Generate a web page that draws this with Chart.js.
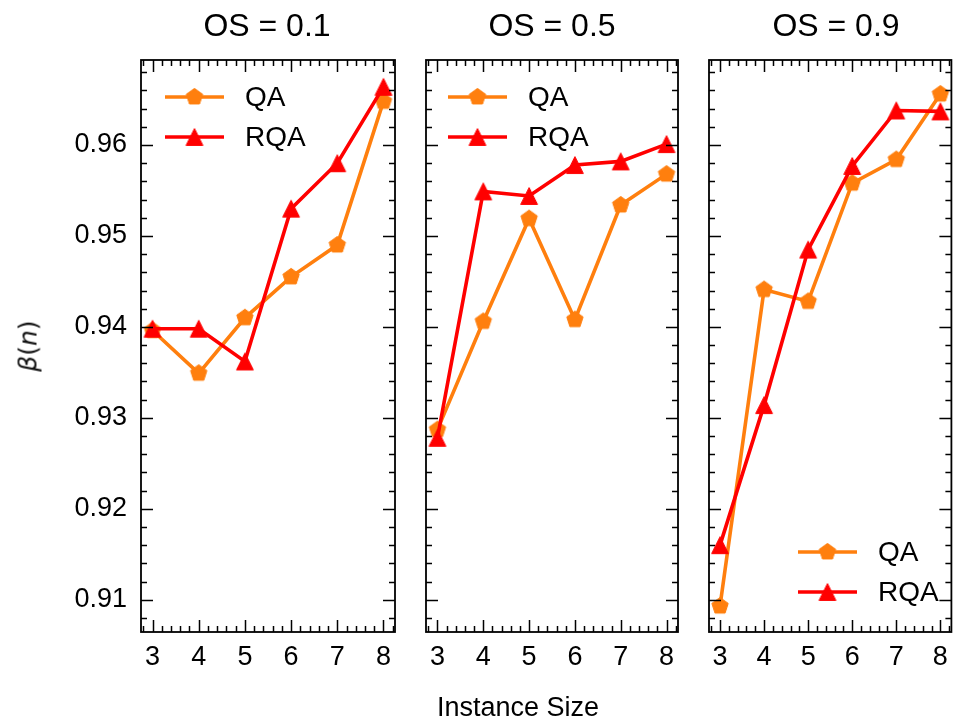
<!DOCTYPE html>
<html><head><meta charset="utf-8">
<script src="https://cdn.jsdelivr.net/npm/chart.js@4.4.0/dist/chart.umd.min.js"></script>
<style>
html,body{margin:0;padding:0;background:#fff;}
#wrap{position:relative;width:964px;height:720px;overflow:hidden;font-family:"Liberation Sans",Arial,sans-serif;color:#000;}
canvas{position:absolute;top:0;}
.title{position:absolute;top:5px;font-size:32px;line-height:40px;transform:translateX(-50%);white-space:nowrap;}
#ylab{position:absolute;left:28px;top:346px;transform:translate(-50%,-50%) rotate(-90deg);font-family:"DejaVu Sans",sans-serif;font-size:25px;white-space:nowrap;color:#111;}
#xlab{position:absolute;left:518px;top:707px;transform:translate(-50%,-50%);font-size:27px;white-space:nowrap;}
</style></head><body>
<div id="wrap">
<canvas id="c1" width="410" height="720" style="left:0px;width:410px;height:720px"></canvas>
<canvas id="c2" width="282" height="720" style="left:410px;width:282px;height:720px"></canvas>
<canvas id="c3" width="272" height="720" style="left:692px;width:272px;height:720px"></canvas>
<div class="title" id="t1" style="left:267px"></div>
<div class="title" id="t2" style="left:552px"></div>
<div class="title" id="t3" style="left:836px"></div>
<div id="ylab"><i>β</i>(<i>n</i>)</div>
<div id="xlab">Instance Size</div>
</div>
<script>
// ---- data ----
const instanceSizes = [3, 4, 5, 6, 7, 8];
const panelTitles = ['OS = 0.1', 'OS = 0.5', 'OS = 0.9'];
const seriesNames = ['QA', 'RQA'];
const qa01  = [0.9396, 0.9349, 0.9410, 0.9455, 0.9490, 0.9648];
const rqa01 = [0.9398, 0.9398, 0.9362, 0.9530, 0.9580, 0.9664];
const qa05  = [0.9287, 0.9406, 0.9519, 0.9408, 0.9534, 0.9568];
const rqa05 = [0.9278, 0.9549, 0.9544, 0.9578, 0.9582, 0.9601];
const qa09  = [0.9093, 0.9441, 0.9428, 0.9558, 0.9584, 0.9656];
const rqa09 = [0.9160, 0.9314, 0.9485, 0.9577, 0.9638, 0.9637];
const xTickValues = [3, 4, 5, 6, 7, 8];
const yTickValues = [0.91, 0.92, 0.93, 0.94, 0.95, 0.96];
const xLimits = [2.75, 8.25];
const yLimits = [0.90645, 0.96935];

// ---- styles ----
const QA_COLOR = '#ff7f0e';
const RQA_COLOR = '#ff0000';
const FONT = '"Liberation Sans", Arial, sans-serif';
Chart.defaults.color = '#000';
Chart.defaults.font.family = FONT;

document.getElementById('t1').textContent = panelTitles[0];
document.getElementById('t2').textContent = panelTitles[1];
document.getElementById('t3').textContent = panelTitles[2];

function makeMarker(kind, color) {
  const s = 22, c = document.createElement('canvas');
  c.width = s; c.height = s;
  const g = c.getContext('2d');
  g.fillStyle = color; g.strokeStyle = color; g.lineWidth = 1;
  g.beginPath();
  if (kind === 'pentagon') {
    const r = 8.6;
    for (let i = 0; i < 5; i++) {
      const a = -Math.PI / 2 + i * 2 * Math.PI / 5;
      const px = s / 2 + r * Math.cos(a), py = s / 2 + r * Math.sin(a);
      i ? g.lineTo(px, py) : g.moveTo(px, py);
    }
  } else {
    const h = 8.4;
    g.moveTo(s / 2, s / 2 - h);
    g.lineTo(s / 2 - h, s / 2 + h);
    g.lineTo(s / 2 + h, s / 2 + h);
  }
  g.closePath(); g.fill(); g.stroke();
  return c;
}
const qaMarker = makeMarker('pentagon', QA_COLOR);
const rqaMarker = makeMarker('triangle', RQA_COLOR);

const axesPlugin = {
  id: 'mplAxes',
  afterDatasetsDraw(chart) {
    const { ctx, chartArea: a, scales: { x, y } } = chart;
    ctx.save();
    ctx.strokeStyle = '#000';
    ctx.lineWidth = 1.5;
    const major = 12, minor = 6;
    const xs = xTickValues[1] - xTickValues[0];
    for (let k = -10; k <= (xTickValues.length + 1) * 5; k++) {
      const v = xTickValues[0] + k * xs / 5;
      if (v < xLimits[0] || v > xLimits[1]) continue;
      const px = Math.round(x.getPixelForValue(v)) + 0.5;
      const L = (k % 5 === 0) ? major : minor;
      ctx.beginPath();
      ctx.moveTo(px, a.bottom); ctx.lineTo(px, a.bottom - L);
      ctx.moveTo(px, a.top); ctx.lineTo(px, a.top + L);
      ctx.stroke();
    }
    const ys = yTickValues[1] - yTickValues[0];
    for (let k = -10; k <= (yTickValues.length + 1) * 5; k++) {
      const v = yTickValues[0] + k * ys / 5;
      if (v < yLimits[0] || v > yLimits[1]) continue;
      const py = Math.round(y.getPixelForValue(v)) + 0.5;
      const L = (k % 5 === 0) ? major : minor;
      ctx.beginPath();
      ctx.moveTo(a.left, py); ctx.lineTo(a.left + L, py);
      ctx.moveTo(a.right, py); ctx.lineTo(a.right - L, py);
      ctx.stroke();
    }
    ctx.lineWidth = 1.8;
    ctx.strokeRect(a.left, a.top, a.right - a.left, a.bottom - a.top);
    ctx.restore();
  }
};

const legendPlugin = {
  id: 'mplLegend',
  afterDraw(chart, args, opts) {
    const { ctx, chartArea: a } = chart;
    const x0 = a.left + opts.dx;
    const y0 = opts.fromBottom ? a.bottom - opts.dy : a.top + opts.dy;
    ctx.save();
    chart.data.datasets.forEach((ds, i) => {
      const yy = y0 + i * 40;
      ctx.strokeStyle = ds.borderColor;
      ctx.lineWidth = ds.borderWidth;
      ctx.beginPath(); ctx.moveTo(x0, yy); ctx.lineTo(x0 + 59, yy); ctx.stroke();
      const m = ds.pointStyle;
      ctx.drawImage(m, x0 + 29.5 - m.width / 2, yy - m.height / 2);
      ctx.fillStyle = '#000';
      ctx.font = '28px ' + FONT;
      ctx.textBaseline = 'middle';
      ctx.textAlign = 'left';
      ctx.fillText(ds.label, x0 + 80, yy + 1);
    });
    ctx.restore();
  }
};

function makeChart(id, qa, rqa, showY, pad, legendOpts) {
  const toPts = arr => instanceSizes.map((v, i) => ({ x: v, y: arr[i] }));
  return new Chart(document.getElementById(id), {
    type: 'line',
    data: {
      datasets: [
        { label: seriesNames[0], data: toPts(qa), borderColor: QA_COLOR, backgroundColor: QA_COLOR,
          borderWidth: 3.6, pointStyle: qaMarker, pointRadius: 9, tension: 0, order: 2, clip: false },
        { label: seriesNames[1], data: toPts(rqa), borderColor: RQA_COLOR, backgroundColor: RQA_COLOR,
          borderWidth: 3.6, pointStyle: rqaMarker, pointRadius: 9, tension: 0, order: 1, clip: false }
      ]
    },
    options: {
      responsive: false, animation: false, devicePixelRatio: 1,
      layout: { padding: { left: pad[0], right: pad[1], top: 60, bottom: 0 } },
      plugins: { legend: { display: false }, tooltip: { enabled: false }, mplLegend: legendOpts },
      scales: {
        x: {
          type: 'linear', min: xLimits[0], max: xLimits[1],
          grid: { display: false, drawTicks: false }, border: { display: false },
          afterBuildTicks: s => { s.ticks = xTickValues.map(v => ({ value: v })); },
          afterFit: s => { s.height = 88; },
          ticks: { autoSkip: false, maxRotation: 0, padding: 9, font: { size: 27 }, callback: v => String(v) }
        },
        y: {
          type: 'linear', min: yLimits[0], max: yLimits[1], display: showY,
          grid: { display: false, drawTicks: false }, border: { display: false },
          afterBuildTicks: s => { s.ticks = yTickValues.map(v => ({ value: v })); },
          afterFit: s => { s.width = showY ? 141 : 0; },
          ticks: { autoSkip: false, padding: 14, font: { size: 27 }, callback: v => v.toFixed(2) }
        }
      }
    },
    plugins: [axesPlugin, legendPlugin]
  });
}

makeChart('c1', qa01, rqa01, true, [0, 15], { dx: 24, dy: 37, fromBottom: false });
makeChart('c2', qa05, rqa05, false, [16, 14], { dx: 22, dy: 37, fromBottom: false });
makeChart('c3', qa09, rqa09, false, [17, 1], { dx: 89, dy: 80, fromBottom: true });
</script>
</body></html>
